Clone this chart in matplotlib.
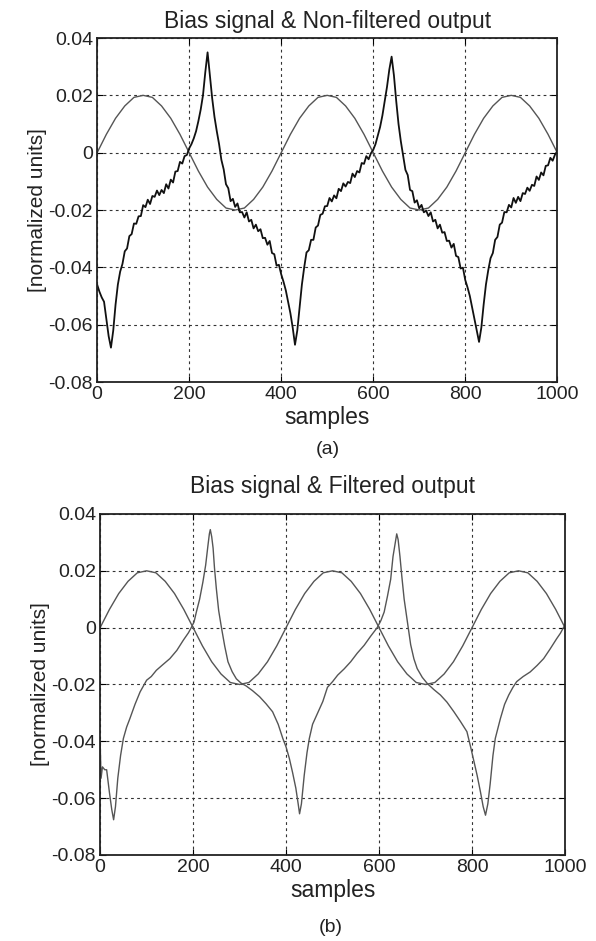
import numpy as np
import matplotlib
matplotlib.use("Agg")
import matplotlib.pyplot as plt

plt.rcParams['font.family'] = ['Liberation Sans', 'DejaVu Sans']

# bias signal, read every 20 samples
bias_samples = list(range(0, 1001, 20))
bias_values = [0, 0.0064, 0.0120, 0.0163, 0.0193, 0.0200, 0.0193, 0.0163, 0.0120, 0.0064,
               0, -0.0064, -0.0120, -0.0163, -0.0193, -0.0200, -0.0193, -0.0163, -0.0120, -0.0064,
               0, 0.0064, 0.0120, 0.0163, 0.0193, 0.0200, 0.0193, 0.0163, 0.0120, 0.0064,
               0, -0.0064, -0.0120, -0.0163, -0.0193, -0.0200, -0.0193, -0.0163, -0.0120, -0.0064,
               0, 0.0064, 0.0120, 0.0163, 0.0193, 0.0200, 0.0193, 0.0163, 0.0120, 0.0064, 0]

# non-filtered output, read every 5 samples
raw_samples = list(range(0, 1001, 5))
raw_values = [-0.046, -0.0485, -0.0505, -0.052, -0.058, -0.064, -0.068, -0.062, -0.053, -0.046,
              -0.0415, -0.0388, -0.0344, -0.0334, -0.0291, -0.0284, -0.0247, -0.0248, -0.0222, -0.0221,
              -0.0183, -0.019, -0.0164, -0.0179, -0.0151, -0.0154, -0.0132, -0.0148, -0.013, -0.0141,
              -0.011, -0.0125, -0.0094, -0.0104, -0.0066, -0.0064, -0.0032, -0.0038, -0.0012, -0.0008,
              0.0015, 0.003, 0.005, 0.0075, 0.011, 0.015, 0.020, 0.028, 0.035, 0.027,
              0.019, 0.0125, 0.0075, 0.003, -0.0025, -0.0058, -0.011, -0.0124, -0.0169, -0.0161,
              -0.0189, -0.0177, -0.0208, -0.0207, -0.0226, -0.0208, -0.024, -0.0234, -0.0264, -0.0251,
              -0.0274, -0.0267, -0.0298, -0.0297, -0.0321, -0.0308, -0.035, -0.0354, -0.0394, -0.0391,
              -0.0424, -0.045, -0.048, -0.052, -0.056, -0.061, -0.067, -0.062, -0.054, -0.046,
              -0.040, -0.0348, -0.034, -0.0304, -0.0304, -0.0261, -0.0254, -0.0217, -0.0213, -0.0187,
              -0.0186, -0.0158, -0.017, -0.0149, -0.0159, -0.0126, -0.0134, -0.0107, -0.0118, -0.0102,
              -0.0106, -0.0073, -0.0085, -0.0064, -0.0069, -0.0036, -0.0039, -0.0012, -0.0023, -0.0002,
              0.001, 0.003, 0.006, 0.009, 0.013, 0.018, 0.023, 0.029, 0.0335, 0.027,
              0.018, 0.010, 0.004, -0.001, -0.006, -0.0078, -0.013, -0.0134, -0.0174, -0.0166,
              -0.0194, -0.0182, -0.0208, -0.0202, -0.0221, -0.0208, -0.024, -0.0234, -0.0264, -0.0251,
              -0.0279, -0.0277, -0.0308, -0.0307, -0.0331, -0.0318, -0.036, -0.0364, -0.0404, -0.0401,
              -0.0444, -0.047, -0.050, -0.054, -0.058, -0.062, -0.066, -0.061, -0.053, -0.046,
              -0.041, -0.0368, -0.035, -0.0304, -0.0294, -0.0251, -0.0244, -0.0207, -0.0208, -0.0182,
              -0.0191, -0.0158, -0.0175, -0.0154, -0.0169, -0.0141, -0.0144, -0.0122, -0.0133, -0.0112,
              -0.0116, -0.0083, -0.0095, -0.0069, -0.0079, -0.0046, -0.0044, -0.0018, -0.0028, -0.0007,
              0.0005]

# filtered output
filt_samples = [0, 2, 5, 10, 14, 20, 25, 29, 33, 38,
                44, 50, 57, 64, 75, 86, 100, 110, 121, 135,
                150, 165, 179, 190, 196, 202, 207, 214, 221, 227,
                232, 235, 237, 240, 243, 246, 250, 255, 261, 268,
                275, 284, 293, 303, 314, 328, 343, 357, 371, 383,
                393, 400, 407, 414, 421, 426, 429, 433, 439, 445,
                450, 457, 468, 479, 489, 500, 511, 525, 539, 553,
                568, 582, 596, 604, 611, 618, 625, 630, 635, 638,
                641, 645, 649, 654, 661, 668, 675, 682, 693, 704,
                718, 732, 746, 761, 775, 789, 797, 804, 811, 818,
                824, 829, 834, 839, 845, 850, 861, 870, 879, 888,
                896, 910, 925, 940, 954, 968, 982, 990, 1000]
filt_values = [-0.040, -0.053, -0.049, -0.050, -0.050, -0.058, -0.064, -0.0676, -0.063, -0.053,
               -0.045, -0.039, -0.035, -0.032, -0.027, -0.0226, -0.0185, -0.0172, -0.015, -0.013,
               -0.0109, -0.008, -0.0044, -0.0018, 0.0, 0.002, 0.0055, 0.010, 0.016, 0.022,
               0.029, 0.033, 0.0345, 0.032, 0.028, 0.021, 0.0137, 0.006, 0.0, -0.0065,
               -0.012, -0.0155, -0.018, -0.0195, -0.0205, -0.0222, -0.0243, -0.0268, -0.0296, -0.034,
               -0.039, -0.042, -0.046, -0.051, -0.0565, -0.062, -0.0655, -0.062, -0.052, -0.044,
               -0.039, -0.034, -0.030, -0.026, -0.021, -0.019, -0.0167, -0.0145, -0.012, -0.009,
               -0.0062, -0.003, 0.0, 0.0025, 0.0055, 0.011, 0.017, 0.025, 0.030, 0.0330,
               0.031, 0.025, 0.018, 0.010, 0.002, -0.006, -0.011, -0.0144, -0.0175, -0.0197,
               -0.0218, -0.0237, -0.0262, -0.0296, -0.033, -0.0366, -0.042, -0.047, -0.052, -0.0577,
               -0.063, -0.0660, -0.062, -0.055, -0.045, -0.039, -0.032, -0.027, -0.0237, -0.021,
               -0.019, -0.0172, -0.0156, -0.0133, -0.0109, -0.0075, -0.0039, -0.002, 0.001]

xticks = [0, 200, 400, 600, 800, 1000]
yticks = [-0.08, -0.06, -0.04, -0.02, 0, 0.02, 0.04]
ytick_labels = ['-0.08', '-0.06', '-0.04', '-0.02', '0', '0.02', '0.04']

fig = plt.figure(figsize=(5.96, 9.41), dpi=100)
ax1 = fig.add_axes([0.163, 0.594, 0.772, 0.3656])
ax2 = fig.add_axes([0.168, 0.0914, 0.780, 0.3624])

txt = '#222222'


def style(ax, title, tpad):
    ax.set_xlim(0, 1000)
    ax.set_ylim(-0.08, 0.04)
    ax.set_xticks(xticks)
    ax.set_yticks(yticks)
    ax.set_yticklabels(ytick_labels)
    ax.grid(True, color='#333333', linestyle=(0, (2.5, 3)), linewidth=0.8)
    ax.tick_params(direction='in', length=4, top=True, right=True, labelsize=14,
                   labelcolor=txt, pad=3)
    for s in ax.spines.values():
        s.set_linewidth(1.3)
        s.set_color('#222222')
    ax.set_title(title, fontsize=16.5, color=txt, pad=tpad)
    ax.set_xlabel('samples', fontsize=16.5, color=txt, labelpad=2)
    ax.set_ylabel('[normalized units]', fontsize=15, color=txt, labelpad=1)


ax1.plot(bias_samples, bias_values, color='#555555', linewidth=1.0)
ax1.plot(raw_samples, raw_values, color='#111111', linewidth=1.3)
style(ax1, 'Bias signal & Non-filtered output', 7)

ax2.plot(bias_samples, bias_values, color='#555555', linewidth=1.0)
ax2.plot(filt_samples, filt_values, color='#555555', linewidth=1.0)
style(ax2, 'Bias signal & Filtered output', 15)

fig.text(0.55, 1 - 450 / 941, '(a)', ha='center', va='center', fontsize=14, color=txt)
fig.text(0.555, 1 - 928 / 941, '(b)', ha='center', va='center', fontsize=14, color=txt)

fig.savefig('out.png', dpi=100, facecolor='white')
